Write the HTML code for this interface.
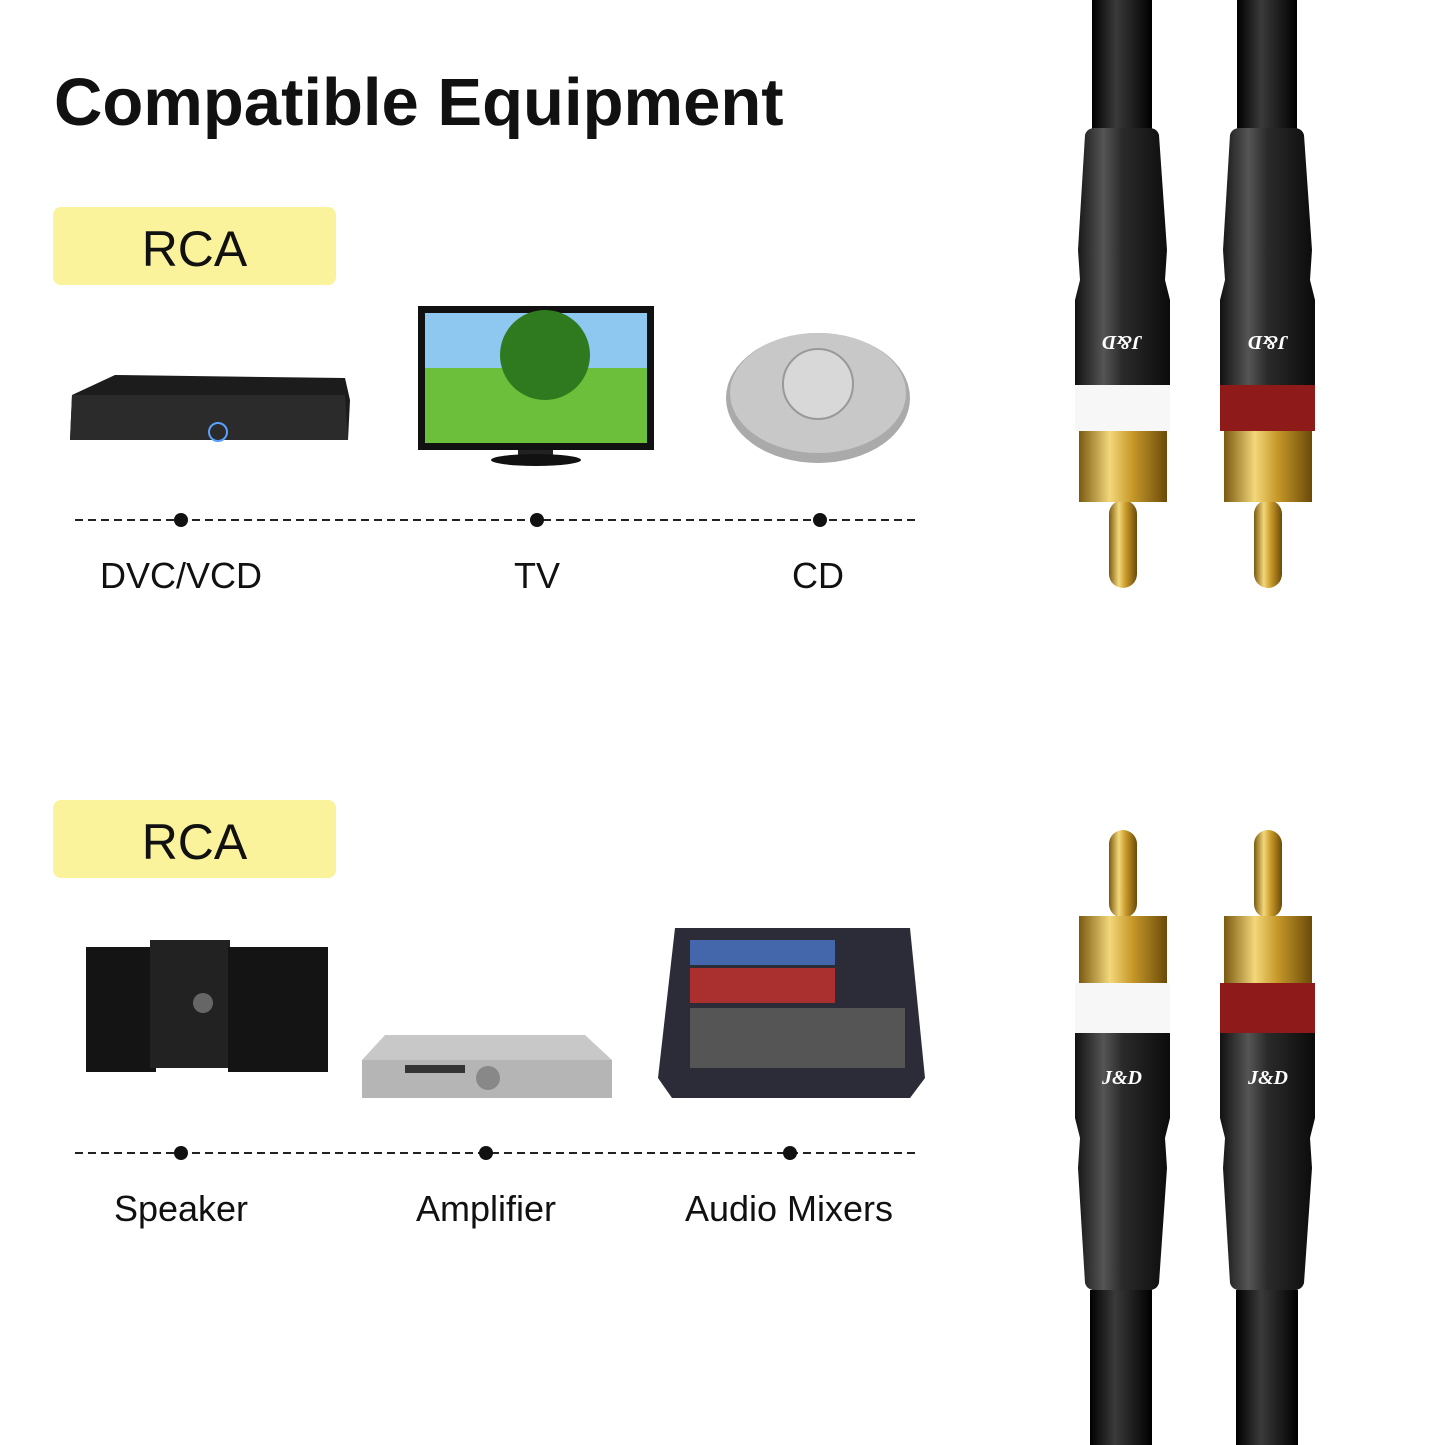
<!DOCTYPE html>
<html><head><meta charset="utf-8"><style>
body{margin:0;background:#fff;width:1445px;height:1445px;overflow:hidden;position:relative;font-family:"Liberation Sans",sans-serif}
.t{position:absolute;white-space:nowrap}
</style></head><body>
<svg width="1445" height="1445" style="position:absolute;left:0;top:0">
<defs>
<linearGradient id="blk" x1="0" x2="1"><stop offset="0" stop-color="#111"/><stop offset=".3" stop-color="#555"/><stop offset=".5" stop-color="#2a2a2a"/><stop offset="1" stop-color="#0b0b0b"/></linearGradient>
<linearGradient id="gold" x1="0" x2="1"><stop offset="0" stop-color="#7a5a10"/><stop offset=".35" stop-color="#f3d77a"/><stop offset=".6" stop-color="#c89a2a"/><stop offset="1" stop-color="#6b4a08"/></linearGradient>
<linearGradient id="cab" x1="0" x2="1"><stop offset="0" stop-color="#000"/><stop offset=".4" stop-color="#3a3a3a"/><stop offset="1" stop-color="#000"/></linearGradient>
<g id="conn">
<rect x="17" y="0" width="60" height="135" fill="url(#cab)"/>
<path d="M10 135 Q12 128 20 128 H74 Q82 128 84 135 L92 250 L90 280 L95 300 L95 385 H0 L0 300 L5 280 L3 250 Z" fill="url(#blk)"/>
<rect x="34" y="500" width="28" height="88" rx="14" fill="url(#gold)"/>
<rect x="4" y="430" width="88" height="72" fill="url(#gold)"/>
</g>
</defs>
<line x1="75" y1="520" x2="918" y2="520" stroke="#222" stroke-width="2" stroke-dasharray="8,5"/>
<circle cx="181" cy="520" r="7" fill="#111"/><circle cx="537" cy="520" r="7" fill="#111"/><circle cx="820" cy="520" r="7" fill="#111"/>
<line x1="75" y1="1153" x2="918" y2="1153" stroke="#222" stroke-width="2" stroke-dasharray="8,5"/>
<circle cx="181" cy="1153" r="7" fill="#111"/><circle cx="486" cy="1153" r="7" fill="#111"/><circle cx="790" cy="1153" r="7" fill="#111"/>
<rect x="53" y="207" width="283" height="78" rx="8" fill="#fbf39c"/>
<rect x="53" y="800" width="283" height="78" rx="8" fill="#fbf39c"/>
<path d="M72 395 L115 375 L345 378 L350 400 L348 440 L70 440 Z" fill="#1c1c1c"/>
<path d="M72 395 L345 395 L348 440 L70 440 Z" fill="#2b2b2b"/>
<circle cx="218" cy="432" r="9" fill="none" stroke="#5aa0ff" stroke-width="2"/>
<rect x="418" y="306" width="236" height="144" fill="#111"/>
<rect x="425" y="313" width="222" height="130" fill="#6cbf3a"/>
<rect x="425" y="313" width="222" height="55" fill="#8ec8f0"/>
<circle cx="545" cy="355" r="45" fill="#2f7a1e"/>
<rect x="518" y="450" width="35" height="10" fill="#222"/>
<ellipse cx="536" cy="460" rx="45" ry="6" fill="#111"/>
<ellipse cx="818" cy="398" rx="92" ry="65" fill="#aaa"/>
<ellipse cx="818" cy="393" rx="88" ry="60" fill="#c8c8c8"/>
<circle cx="818" cy="384" r="35" fill="#d8d8d8" stroke="#999" stroke-width="2"/>
<rect x="86" y="947" width="70" height="125" fill="#141414"/>
<rect x="150" y="940" width="80" height="128" fill="#222"/>
<rect x="228" y="947" width="100" height="125" fill="#141414"/>
<circle cx="203" cy="1003" r="10" fill="#666"/>
<path d="M362 1060 L385 1035 H585 L612 1060 V1098 H362 Z" fill="#c8c8c8"/>
<rect x="362" y="1060" width="250" height="38" fill="#b5b5b5"/>
<circle cx="488" cy="1078" r="12" fill="#888"/>
<rect x="405" y="1065" width="60" height="8" fill="#333"/>
<path d="M675 928 H910 L925 1078 L910 1098 H672 L658 1078 Z" fill="#2c2c38"/>
<rect x="690" y="940" width="145" height="25" fill="#4466aa"/>
<rect x="690" y="968" width="145" height="35" fill="#aa3030"/>
<rect x="690" y="1008" width="215" height="60" fill="#555"/>
<use href="#conn" x="1075" y="0"/>
<rect x="1075" y="385" width="95" height="46" fill="#f7f7f7"/>
<use href="#conn" x="1220" y="0"/>
<rect x="1220" y="385" width="95" height="46" fill="#8f1a1a"/>
<g transform="translate(0,1418) scale(1,-1)">
<use href="#conn" x="1075" y="0"/>
<rect x="1075" y="385" width="95" height="50" fill="#f7f7f7"/>
<use href="#conn" x="1220" y="0"/>
<rect x="1220" y="385" width="95" height="50" fill="#8f1a1a"/>
</g>
<rect x="1090" y="1290" width="62" height="155" fill="url(#cab)"/>
<rect x="1236" y="1290" width="62" height="155" fill="url(#cab)"/>
<text x="1122" y="1084" fill="#fff" font-size="20" font-style="italic" font-weight="bold" text-anchor="middle" font-family="Liberation Serif">J&amp;D</text>
<text x="1268" y="1084" fill="#fff" font-size="20" font-style="italic" font-weight="bold" text-anchor="middle" font-family="Liberation Serif">J&amp;D</text>
<text x="1122" y="350" fill="#fff" font-size="20" font-style="italic" font-weight="bold" text-anchor="middle" font-family="Liberation Serif" transform="rotate(180 1122 343)">J&amp;D</text>
<text x="1268" y="350" fill="#fff" font-size="20" font-style="italic" font-weight="bold" text-anchor="middle" font-family="Liberation Serif" transform="rotate(180 1268 343)">J&amp;D</text>
</svg>
<div class="t" style="left:54px;top:64px;font-size:67px;font-weight:bold;color:#111">Compatible Equipment</div>
<div class="t" style="left:53px;width:283px;text-align:center;top:220px;font-size:50px;color:#111">RCA</div>
<div class="t" style="left:53px;width:283px;text-align:center;top:813px;font-size:50px;color:#111">RCA</div>
<div class="t" style="left:81px;width:200px;text-align:center;top:555px;font-size:36px;color:#111">DVC/VCD</div>
<div class="t" style="left:437px;width:200px;text-align:center;top:555px;font-size:36px;color:#111">TV</div>
<div class="t" style="left:718px;width:200px;text-align:center;top:555px;font-size:36px;color:#111">CD</div>
<div class="t" style="left:81px;width:200px;text-align:center;top:1188px;font-size:36px;color:#111">Speaker</div>
<div class="t" style="left:386px;width:200px;text-align:center;top:1188px;font-size:36px;color:#111">Amplifier</div>
<div class="t" style="left:639px;width:300px;text-align:center;top:1188px;font-size:36px;color:#111">Audio Mixers</div>
</body></html>
